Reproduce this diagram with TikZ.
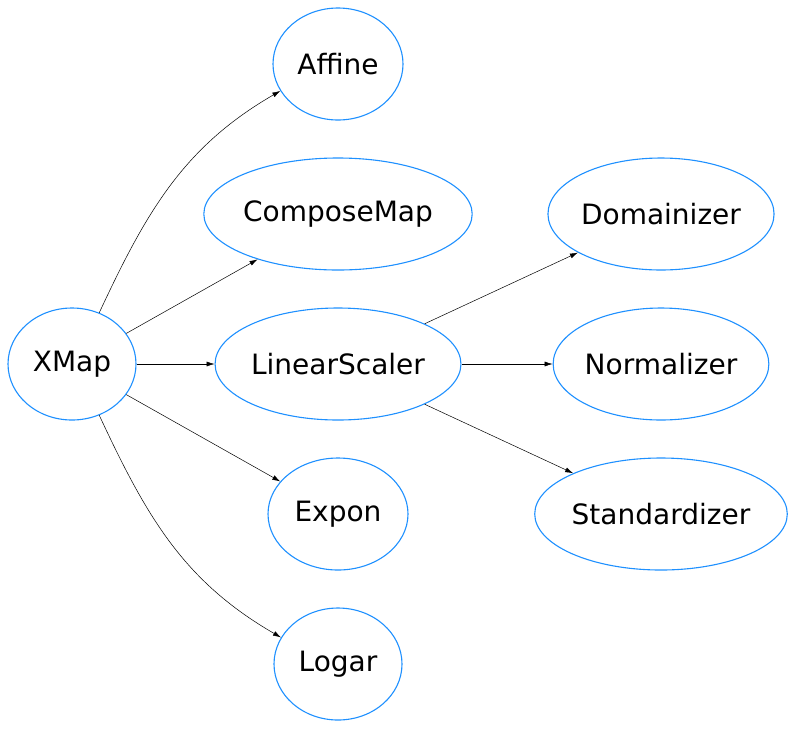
\documentclass[tikz,border=0pt]{standalone}
\usepackage{fontspec}
\setmainfont{DejaVu Sans}
\usetikzlibrary{shapes.geometric,arrows.meta}
\definecolor{nodeblue}{HTML}{1E90FF}
\begin{document}
\begin{tikzpicture}[x=1pt,y=-1pt,
  el/.style 2 args={ellipse,draw=nodeblue,line width=1.1pt,minimum width=#1pt,minimum height=#2pt,inner sep=0pt,font=\fontsize{28}{32}\selectfont},
  edge/.style={-{Latex[length=8pt,width=5pt]},line width=0.5pt}]
\useasboundingbox (0,0) rectangle (791,729);
\node[el={128}{112}] (xmap) at (72,364) {XMap};
\node[el={130}{112}] (affine) at (338,64) {Affine};
\node[el={254}{112}] (compose) at (338,214) {ComposeMap};
\node[el={234}{112}] (linear) at (338,364) {LinearScaler};
\node[el={140}{112}] (expon) at (338,514) {Expon};
\node[el={128}{112}] (logar) at (338,664) {Logar};
\node[el={218}{112}] (domain) at (661,214) {Domainizer};
\node[el={210}{112}] (norm) at (661,364) {Normalizer};
\node[el={240}{112}] (stand) at (661,514) {Standardizer};
\draw[edge] (xmap.62) to[out=65,in=210] (affine.-155);
\draw[edge] (xmap) -- (compose);
\draw[edge] (xmap) -- (linear);
\draw[edge] (xmap) -- (expon);
\draw[edge] (xmap.-62) to[out=-65,in=150] (logar.155);
\draw[edge] (linear) -- (domain);
\draw[edge] (linear) -- (norm);
\draw[edge] (linear) -- (stand);
\end{tikzpicture}
\end{document}
